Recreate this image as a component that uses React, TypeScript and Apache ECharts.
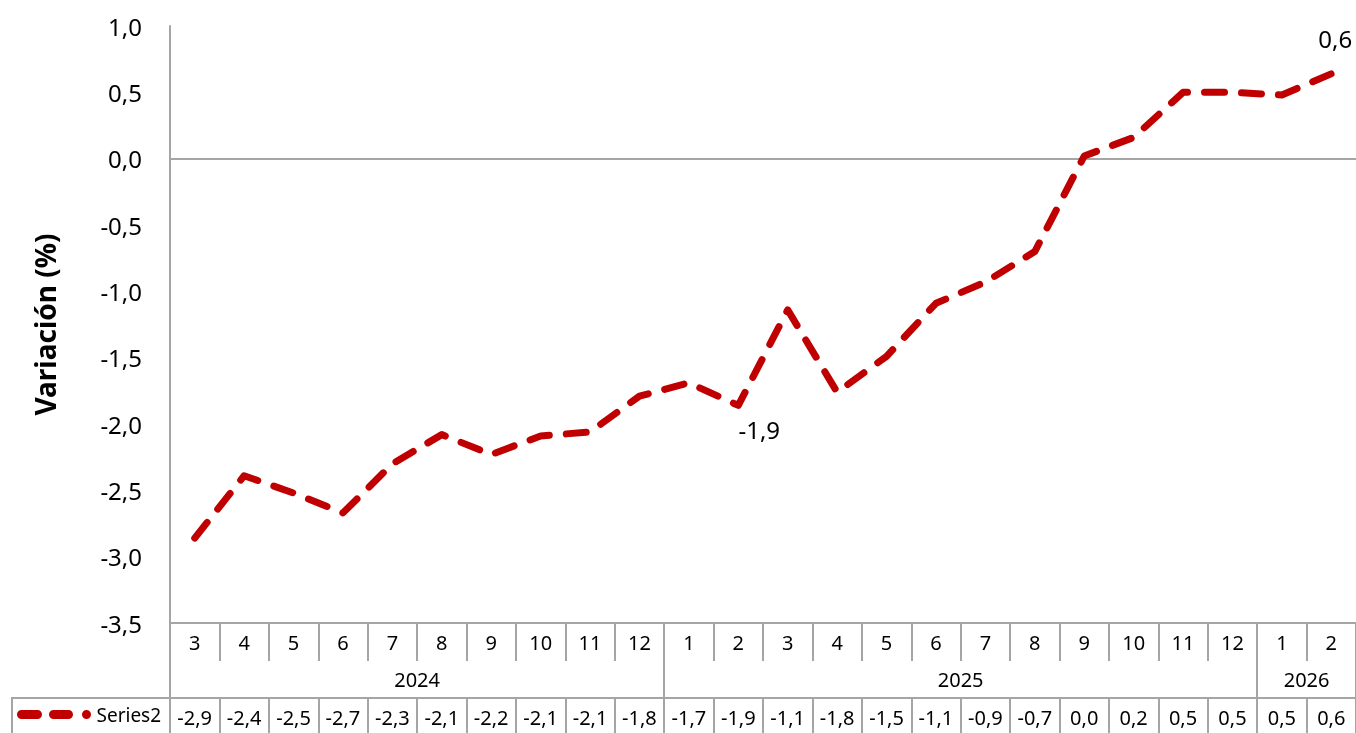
import React, { useEffect, useRef } from "react";
import * as echarts from "echarts";

const months = ["3","4","5","6","7","8","9","10","11","12","1","2","3","4","5","6","7","8","9","10","11","12","1","2"];
const values = [-2.86,-2.39,-2.52,-2.67,-2.30,-2.08,-2.23,-2.09,-2.06,-1.79,-1.69,-1.86,-1.14,-1.76,-1.49,-1.09,-0.93,-0.70,0.02,0.16,0.50,0.50,0.48,0.64];
const years = ["2024","2025","2026"];
const yearCenters = [5, 16, 23];
const yearBounds = [0, 10, 22, 24];
const labeledIdx = [11, 23];
const seriesName = "Series2";

const fmt = (v: number) => v.toFixed(1).replace(".", ",");
const FONT = "Noto Sans";
const GRAY = "#a5a5a5";

export default function App() {
  const ref = useRef<HTMLDivElement>(null);
  useEffect(() => {
    const chart = echarts.init(ref.current!, null, { renderer: "svg" });
    const data = values.map((v, i) => {
      if (i === labeledIdx[0]) {
        return { value: v, label: { show: true, position: "bottom", distance: 12, offset: [21, 0] } };
      }
      if (i === labeledIdx[1]) {
        return { value: v, label: { show: true, position: "top", distance: 23, offset: [4, 0] } };
      }
      return v;
    });
    const cellIdx = values.map((_, i) => i + 0.5);
    const cellTicks = values.map((_, i) => i).concat([values.length]);
    chart.setOption({
      animation: false,
      textStyle: { fontFamily: FONT },
      grid: { left: 170, right: -5, top: 26, bottom: 110, containLabel: false },
      legend: {
        data: [seriesName],
        left: 17,
        top: 705,
        padding: 0,
        itemWidth: 75,
        itemHeight: 9,
        icon: "path://M4.5,0 H20.5 A4.5,4.5 0 0 1 20.5,9 H4.5 A4.5,4.5 0 0 1 4.5,0 Z M36.5,0 H51.5 A4.5,4.5 0 0 1 51.5,9 H36.5 A4.5,4.5 0 0 1 36.5,0 Z M69.5,0 A4.5,4.5 0 1 1 69.5,9 A4.5,4.5 0 1 1 69.5,0 Z",
        itemStyle: { color: "#c00000", borderWidth: 0 },
        textStyle: { fontSize: 19, color: "#000", fontFamily: FONT },
      },
      xAxis: [
        {
          type: "category",
          data: months,
          boundaryGap: true,
          position: "bottom",
          axisLine: { show: true, onZero: false, lineStyle: { color: GRAY, width: 2 } },
          axisTick: { show: true, interval: 0, length: 38, lineStyle: { color: GRAY, width: 2 } },
          axisLabel: { interval: 0, fontSize: 20, color: "#000", margin: 19, verticalAlign: "middle", fontFamily: FONT },
          splitLine: { show: false },
        },
        {
          type: "value",
          min: 0,
          max: 24,
          position: "bottom",
          offset: 0,
          axisLine: { show: false, onZero: false },
          axisTick: { show: true, customValues: yearBounds, length: 75, lineStyle: { color: GRAY, width: 2 } },
          axisLabel: {
            customValues: yearCenters,
            formatter: (v: number) => years[yearCenters.indexOf(v)] ?? "",
            fontSize: 20,
            color: "#000",
            margin: 56,
            verticalAlign: "middle",
            fontFamily: FONT,
          },
          splitLine: { show: false },
        },
        {
          type: "value",
          min: 0,
          max: 24,
          position: "bottom",
          offset: 75,
          axisLine: { show: true, onZero: false, lineStyle: { color: GRAY, width: 2 } },
          axisTick: { show: true, customValues: cellTicks, length: 40, lineStyle: { color: GRAY, width: 2 } },
          axisLabel: {
            customValues: cellIdx,
            formatter: (v: number) => fmt(values[Math.floor(v)]),
            fontSize: 20,
            color: "#000",
            margin: 19,
            verticalAlign: "middle",
            fontFamily: FONT,
          },
          splitLine: { show: false },
        },
      ],
      yAxis: {
        type: "value",
        min: -3.5,
        max: 1.0,
        interval: 0.5,
        name: "Variación (%)",
        nameLocation: "middle",
        nameGap: 111,
        nameTextStyle: { fontSize: 28, fontWeight: "bold", color: "#000", fontFamily: FONT },
        axisLine: { show: true, lineStyle: { color: GRAY, width: 2 } },
        axisTick: { show: false },
        splitLine: { show: false },
        axisLabel: { formatter: (v: number) => fmt(v), fontSize: 24, color: "#000", margin: 28, fontFamily: FONT },
      },
      series: [
        {
          name: seriesName,
          type: "line",
          xAxisIndex: 0,
          yAxisIndex: 0,
          data,
          symbol: "circle",
          symbolSize: 0.1,
          showSymbol: true,
          showAllSymbol: true,
          color: "#c00000",
          itemStyle: { color: "#c00000" },
          lineStyle: { color: "#c00000", width: 7, type: [20, 17], cap: "round", join: "round" },
          label: { show: false, fontSize: 24, color: "#000", fontFamily: FONT, formatter: (p: any) => fmt(p.value) },
          markLine: {
            silent: true,
            symbol: "none",
            label: { show: false },
            lineStyle: { color: GRAY, width: 2, type: "solid" },
            data: [{ yAxis: 0 }],
            z: 1,
          },
          z: 3,
        },
      ],
      graphic: [
        {
          type: "rect",
          shape: { x: 12, y: 698, width: 158, height: 60 },
          style: { fill: "none", stroke: GRAY, lineWidth: 2 },
          silent: true,
        },
      ],
    });
    return () => chart.dispose();
  }, []);
  return <div ref={ref} style={{ position: "fixed", left: 0, top: 0, width: 1356, height: 733 }} />;
}
